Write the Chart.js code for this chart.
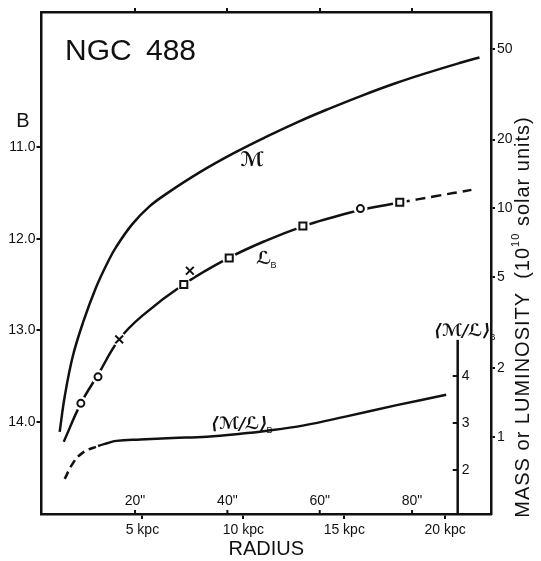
<!DOCTYPE html>
<html>
<head>
<meta charset="utf-8">
<script src="https://cdn.jsdelivr.net/npm/chart.js"></script>
<style>
  html, body { margin: 0; padding: 0; background: #fff; }
</style>
</head>
<body>
<canvas id="chart" width="541" height="561"></canvas>
<script>
// radius in kpc, mass / luminosity in 10^10 solar units
const massKpc = [0.9, 1.15, 1.55, 2.05, 2.7, 3.3, 3.7, 4.5, 5.35, 6.2, 7.85, 9.5, 11.15, 12.8, 14.2, 15.85, 17.5, 19.15, 20.8, 21.7];
const massVal = [1.05, 1.5, 2.25, 3.15, 4.5, 5.85, 6.78, 8.53, 10.2, 11.6, 14.4, 17.4, 20.6, 24.1, 27.2, 31.1, 35.2, 39.3, 43.5, 45.8];

const lumKpc = [1.1, 1.95, 2.8, 3.85, 5.0, 7.05, 9.3, 11.1, 12.95, 14.4, 15.8, 17.75, 19.5, 21.3];
const lumVal = [0.95, 1.40, 1.87, 2.67, 3.39, 4.65, 6.08, 7.21, 8.34, 9.12, 9.84, 10.6, 11.3, 12.05];

// measured B magnitudes
const markerKpc = [1.95, 2.8, 3.85, 7.05, 7.35, 9.3, 12.95, 15.8, 17.75];
const markerB = [13.80, 13.51, 13.10, 12.50, 12.35, 12.21, 11.86, 11.67, 11.60];
const markerType = ['circle', 'circle', 'cross', 'square', 'cross', 'square', 'square', 'circle', 'square'];

// <M/L>_B ratio
const mlKpc = [1.15, 1.55, 2.05, 2.8, 3.25, 3.7, 4.9, 6.5, 8.2, 9.85, 11.1, 13.0, 15.0, 17.6, 20.05];
const mlVal = [1.81, 2.14, 2.37, 2.51, 2.57, 2.62, 2.65, 2.68, 2.71, 2.77, 2.83, 2.95, 3.13, 3.38, 3.60];

const kpcTicks = [5, 10, 15, 20];
const arcTicks = [20, 40, 60, 80];
const bTicks = [11, 12, 13, 14];
const massTicks = [1, 2, 5, 10, 20, 50];
const mlTicks = [2, 3, 4];

const ink = '#111';
const family = '"Liberation Sans", Arial, sans-serif';

const pts = (xs, ys) => xs.map((x, i) => ({ x: x, y: ys[i] }));
const styleOf = { circle: 'circle', square: 'rect', cross: 'crossRot' };
const sizeOf = { circle: 3.5, square: 5, cross: 5.5 };

const annotate = {
  id: 'annotate',
  afterDraw(chart) {
    const { ctx, chartArea: a, scales } = chart;
    ctx.save();
    ctx.fillStyle = ink;
    ctx.strokeStyle = ink;

    // arcsec scale, drawn inside the frame
    ctx.lineWidth = 2;
    ctx.font = '14px ' + family;
    ctx.textAlign = 'center';
    ctx.textBaseline = 'middle';
    arcTicks.forEach(v => {
      const px = scales.xs.getPixelForValue(v);
      ctx.beginPath();
      ctx.moveTo(px, a.bottom);
      ctx.lineTo(px, a.bottom - 4);
      ctx.stroke();
      ctx.fillText(v + '"', px, a.bottom - 13);
    });

    // <M/L> axis
    const yml = scales.yML;
    const mx = scales.x.getPixelForValue(20.62);
    ctx.lineWidth = 2.5;
    ctx.beginPath();
    ctx.moveTo(mx, yml.getPixelForValue(4.77));
    ctx.lineTo(mx, a.bottom);
    ctx.stroke();
    ctx.lineWidth = 2;
    ctx.textAlign = 'left';
    mlTicks.forEach(v => {
      const py = yml.getPixelForValue(v);
      ctx.beginPath();
      ctx.moveTo(mx - 5, py);
      ctx.lineTo(mx, py);
      ctx.stroke();
      ctx.fillText(String(v), mx + 4, py);
    });

    // texts
    ctx.textBaseline = 'alphabetic';
    ctx.font = '30px ' + family;
    ctx.fillText('NGC', 65, 60);
    ctx.fillText('488', 146, 60);
    ctx.font = '20px ' + family;
    ctx.textAlign = 'center';
    ctx.fillText('B', 23, 127);

    const sub = (main, s, x, y, size) => {
      ctx.textAlign = 'left';
      ctx.font = 'italic bold ' + size + 'px "DejaVu Serif", "DejaVu Sans", serif';
      ctx.fillText(main, x, y);
      const w = ctx.measureText(main).width;
      ctx.font = Math.round(size * 0.5) + 'px ' + family;
      ctx.fillText(s, x + w - 1, y + 4);
    };
    ctx.textAlign = 'center';
    ctx.font = 'italic bold 20px "DejaVu Serif", "DejaVu Sans", serif';
    ctx.fillText('ℳ', 252, 166);
    sub('ℒ', 'B', 256, 264, 18);
    sub('⟨ℳ/ℒ⟩', 'B', 211, 429, 17);
    sub('⟨ℳ/ℒ⟩', 'B', 434, 336, 17);

    // right axis title, reading upwards
    ctx.translate(523, 317);
    ctx.rotate(-Math.PI / 2);
    ctx.textAlign = 'left';
    ctx.textBaseline = 'middle';
    ctx.letterSpacing = '1px';
    const p1 = 'MASS or LUMINOSITY  (10';
    const p2 = ' solar units)';
    ctx.font = '20px ' + family;
    const w1 = ctx.measureText(p1).width;
    const w3 = ctx.measureText(p2).width;
    ctx.font = '11px ' + family;
    const w2 = ctx.measureText('10').width;
    let x0 = -(w1 + w2 + w3) / 2;
    ctx.font = '20px ' + family;
    ctx.fillText(p1, x0, 0);
    ctx.font = '11px ' + family;
    ctx.fillText('10', x0 + w1, -7);
    ctx.font = '20px ' + family;
    ctx.fillText(p2, x0 + w1 + w2, 0);
    ctx.restore();
  }
};

const axisGrid = len => ({ drawOnChartArea: false, tickLength: len, lineWidth: 2, color: ink });
const axisBorder = { color: ink, width: 2.5 };
const tickFont = { family: family, size: 14 };

new Chart(document.getElementById('chart'), {
  type: 'scatter',
  data: {
    datasets: [
      {
        data: pts(markerKpc, markerB),
        yAxisID: 'y',
        showLine: false,
        pointStyle: markerType.map(t => styleOf[t]),
        pointRadius: markerType.map(t => sizeOf[t]),
        pointBorderWidth: 2,
        pointBackgroundColor: '#fff',
        pointBorderColor: ink
      },
      {
        // white gap where the curve meets a marker
        data: pts(markerKpc, markerB),
        yAxisID: 'y',
        showLine: false,
        pointStyle: 'circle',
        pointRadius: 7,
        pointBorderWidth: 0,
        pointBackgroundColor: '#fff'
      },
      {
        data: pts(massKpc, massVal),
        yAxisID: 'yR',
        showLine: true,
        borderColor: ink,
        borderWidth: 2.5,
        pointRadius: 0,
        tension: 0.4
      },
      {
        data: pts(lumKpc, lumVal),
        yAxisID: 'yR',
        showLine: true,
        borderColor: ink,
        borderWidth: 2.5,
        pointRadius: 0,
        tension: 0.4,
        segment: { borderDash: c => c.p0.parsed.x >= 17.7 ? [10, 6] : undefined }
      },
      {
        data: pts(mlKpc, mlVal),
        yAxisID: 'yML',
        showLine: true,
        borderColor: ink,
        borderWidth: 2.5,
        pointRadius: 0,
        tension: 0.4,
        segment: { borderDash: c => c.p1.parsed.x <= 2.85 ? [8, 5] : undefined }
      }
    ]
  },
  options: {
    responsive: false,
    animation: false,
    layout: { padding: 0 },
    plugins: { legend: { display: false }, tooltip: { enabled: false } },
    scales: {
      x: {
        type: 'linear', position: 'bottom', min: 0, max: 22.27,
        afterBuildTicks: s => { s.ticks = kpcTicks.map(v => ({ value: v })); },
        ticks: { callback: v => v + ' kpc', font: tickFont, color: ink, padding: 3, autoSkip: false, maxRotation: 0 },
        grid: axisGrid(5),
        border: axisBorder,
        title: { display: true, text: 'RADIUS', color: ink, font: { family: family, size: 20 }, padding: { top: 0, bottom: 0 } },
        afterFit: s => { s.height = 47; }
      },
      xs: {
        type: 'linear', position: 'top', min: -0.26, max: 97.1,
        afterBuildTicks: s => { s.ticks = arcTicks.map(v => ({ value: v })); },
        ticks: { display: false },
        grid: axisGrid(4),
        border: axisBorder,
        afterFit: s => { s.height = 12; }
      },
      y: {
        type: 'linear', position: 'left', reverse: true, min: 9.52, max: 15.01,
        afterBuildTicks: s => { s.ticks = bTicks.map(v => ({ value: v })); },
        ticks: { callback: v => v.toFixed(1), font: tickFont, color: ink, padding: 1, autoSkip: false },
        grid: axisGrid(5),
        border: axisBorder,
        afterFit: s => { s.width = 41.5; }
      },
      yR: {
        type: 'logarithmic', position: 'right', min: 0.459, max: 72.4,
        afterBuildTicks: s => { s.ticks = massTicks.map(v => ({ value: v })); },
        ticks: { callback: v => String(v), font: tickFont, color: ink, padding: 2, autoSkip: false },
        grid: axisGrid(4),
        border: axisBorder,
        afterFit: s => { s.width = 50; }
      },
      yML: {
        type: 'linear', display: false, min: 1.064, max: 11.745
      }
    }
  },
  plugins: [annotate]
});
</script>
</body>
</html>
